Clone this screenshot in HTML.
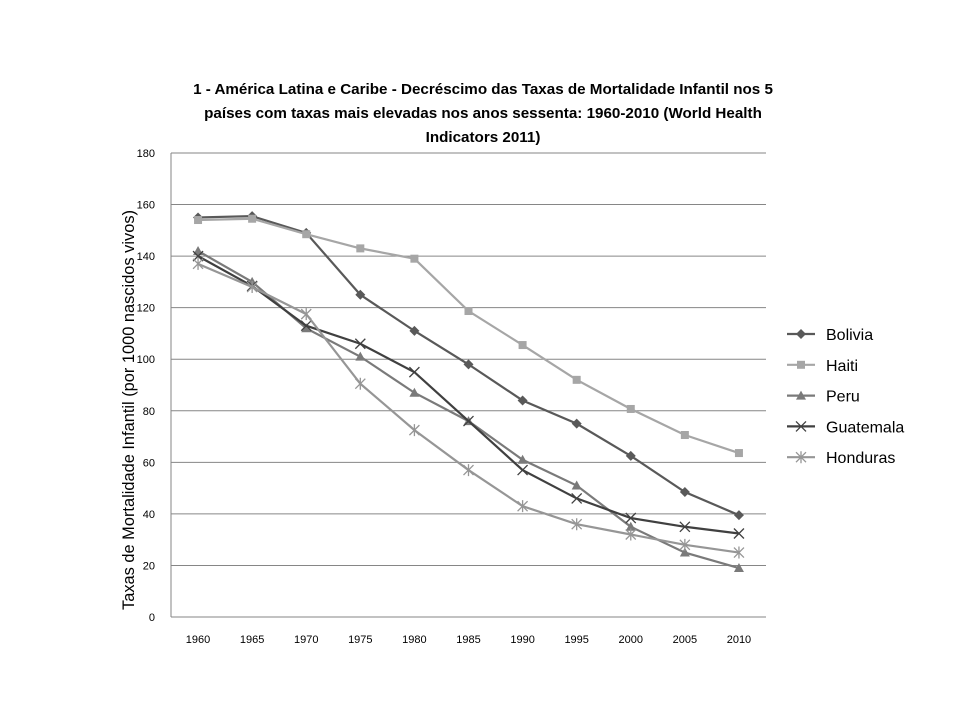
<!DOCTYPE html>
<html><head><meta charset="utf-8"><style>
body{margin:0;background:#fff;}
svg text{font-family:"Liberation Sans",sans-serif;}
</style></head><body>
<svg id="chart" width="960" height="720" xmlns="http://www.w3.org/2000/svg">
<g font-size="15.2" font-weight="bold" fill="#000" text-anchor="middle">
<text x="483" y="94">1 - América Latina e Caribe - Decréscimo das Taxas de Mortalidade Infantil nos 5</text>
<text x="483" y="118">países com taxas mais elevadas nos anos sessenta: 1960-2010 (World Health</text>
<text x="483" y="142">Indicators 2011)</text>
</g>
<text transform="translate(134,410) rotate(-90)" text-anchor="middle" font-size="16.4">Taxas de Mortalidade Infantil (por 1000 nascidos vivos)</text>
<g id="grid"></g><g id="series"></g><g id="legend"></g>
</svg>
<script>
const categories=["1960","1965","1970","1975","1980","1985","1990","1995","2000","2005","2010"];
const yTicks=[0,20,40,60,80,100,120,140,160,180];
const seriesNames=["Bolivia","Haiti","Peru","Guatemala","Honduras"];
const bolivia=[155,155.5,149,125,111,98,84,75,62.5,48.5,39.5];
const haiti=[154,154.5,148.5,143,139,118.7,105.5,92,80.7,70.6,63.6];
const peru=[142,130,112,101,87,76,61,51,35,25,19];
const guatemala=[140,128.4,113,106,95,76,57,46,38.4,35,32.4];
const honduras=[137,128,117.5,90.5,72.5,57,43,36,32,28,25];
const NS="http://www.w3.org/2000/svg";
const L=171,R=766,T=153,B=617,yMax=180;
const xs=i=>L+(R-L)/categories.length*(i+0.5);
const ys=v=>B-(B-T)*v/yMax;
function mk(t,a,p){const e=document.createElementNS(NS,t);for(const k in a)e.setAttribute(k,a[k]);p.appendChild(e);return e;}
const grid=document.getElementById('grid');
yTicks.forEach(v=>{
 const l=mk('line',{x1:L,x2:R,y1:ys(v),y2:ys(v),stroke:'#868686','stroke-width':1},grid);
 
 
 const t=mk('text',{x:L-16,y:ys(v)+4,'text-anchor':'end','font-size':11},grid);t.textContent=v;
 
 
});
const ax=mk('line',{x1:L,x2:L,y1:T,y2:B,stroke:'#868686'},grid);


categories.forEach((c,i)=>{
 const t=mk('text',{x:xs(i),y:B+26,'text-anchor':'middle','font-size':11},grid);t.textContent=c;
 
 
});
const data=[bolivia,haiti,peru,guatemala,honduras];
const colors=['#595959','#a6a6a6','#7a7a7a','#404040','#969696'];
const markers=['diamond','square','triangle','x','star'];
function marker(g,type,x,y,c){
 if(type==='diamond')mk('polygon',{points:`${x},${y-5} ${x+5},${y} ${x},${y+5} ${x-5},${y}`,fill:c},g);
 else if(type==='square')mk('rect',{x:x-4,y:y-4,width:8,height:8,fill:c},g);
 else if(type==='triangle')mk('polygon',{points:`${x},${y-5} ${x+5},${y+4} ${x-5},${y+4}`,fill:c},g);
 else if(type==='x'){mk('path',{d:`M${x-5},${y-5}L${x+5},${y+5}M${x+5},${y-5}L${x-5},${y+5}`,stroke:c,'stroke-width':1.3},g);}
 else{mk('path',{d:`M${x-5},${y-5}L${x+5},${y+5}M${x+5},${y-5}L${x-5},${y+5}M${x},${y-6}L${x},${y+6}`,stroke:c,'stroke-width':1.3},g);}
}
const sg=document.getElementById('series'),lg=document.getElementById('legend');
data.forEach((d,s)=>{
 const g=mk('g',{},sg);
 
 
 mk('polyline',{points:d.map((v,i)=>xs(i)+','+ys(v)).join(' '),fill:'none',stroke:colors[s],'stroke-width':2.2},g);
 d.forEach((v,i)=>marker(g,markers[s],xs(i),ys(v),colors[s]));
 const ly=334+s*30.8;
 const e=mk('g',{},lg);
 
 
 mk('line',{x1:787,x2:815,y1:ly,y2:ly,stroke:colors[s],'stroke-width':2.2},e);
 marker(e,markers[s],801,ly,colors[s]);
 const t=mk('text',{x:826,y:ly+6,'font-size':16},e);t.textContent=seriesNames[s];
});
</script>
</body></html>
